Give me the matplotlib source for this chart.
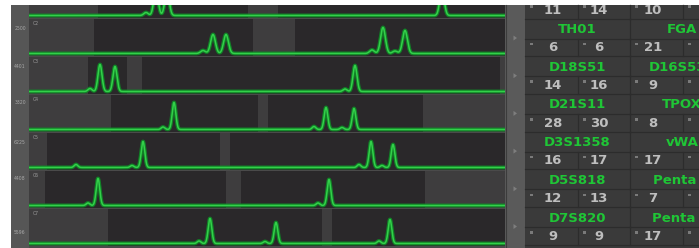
import numpy as np
import matplotlib
matplotlib.use("Agg")
import matplotlib.pyplot as plt
from matplotlib.patches import Rectangle, Polygon

W, H = 699, 248

# --- electropherogram rows (x in scan units, heights in RFU) ---
row_names = ["C1", "C2", "C3", "C4", "C5", "C6", "C7"]
row_scale = ["", "2500", "4401", "3320", "6225", "4408", "5596"]
scale_y = [0, 29, 66, 103, 142, 179, 232]

peak_pos = [
    [117, 127, 138, 413],
    [174, 184, 197, 343, 354, 366, 376],
    [61, 71, 86, 316, 326],
    [134, 145, 285, 297, 313, 325],
    [47, 103, 114, 330, 342, 353, 364],
    [59, 69, 289, 300],
    [170, 181, 236, 247, 350, 361],
]
peak_rfu = [
    [300, 2600, 2500, 2700],
    [300, 1900, 1900, 350, 2600, 250, 2300],
    [300, 2700, 2500, 250, 2600],
    [250, 2700, 300, 2200, 200, 2100],
    [300, 200, 2600, 300, 2600, 200, 2300],
    [250, 2700, 250, 2600],
    [250, 2500, 200, 2100, 250, 2400],
]
peak_sigma = [2.2, 2.4, 2.0, 1.8, 1.8, 1.8, 1.8]

bins = [
    [(0, 69), (219, 249)],
    [(0, 65), (224, 266)],
    [(0, 59), (98, 113), (471, 476)],
    [(0, 82), (229, 239), (394, 476)],
    [(0, 18), (191, 201)],
    [(0, 16), (197, 212), (396, 476)],
    [(0, 79), (293, 303)],
]

# --- allele table ---
loci_left = ["TH01", "D18S51", "D21S11", "D3S1358", "D5S818", "D7S820"]
loci_right = ["FGA", "D16S539", "TPOX", "vWA", "Penta E", "Penta D"]
alleles = [
    [11, 14, 10],
    [6, 6, 21],
    [14, 16, 9],
    [28, 30, 8],
    [16, 17, 17],
    [12, 13, 7],
    [9, 9, 17],
]

DARK = "#2a282a"
LIGHT = "#3e3d3e"
SEP = "#4a4a4a"
GREEN_GLOW = "#0f8a26"
GREEN = "#33d04a"

fig = plt.figure(figsize=(W / 100, H / 100), dpi=100)
fig.patch.set_facecolor("white")

bg = fig.add_axes([0, 0, 1, 1], zorder=0)
bg.set_xlim(0, W)
bg.set_ylim(H, 0)
bg.axis("off")

# label column, trace container, arrow strip, table
bg.add_patch(Rectangle((11, 5), 18, H - 5, color="#565656", lw=0))
bg.add_patch(Rectangle((29, 5), 476, H - 5, color=SEP, lw=0))
bg.add_patch(Rectangle((505, 5), 20, H - 5, color="#5a5a5a", lw=0))
bg.add_patch(Rectangle((525, 5), W - 525, H - 5, color="#3a3a3a", lw=0))
bg.plot([505.5, 505.5], [5, H], color="#3c3c3c", lw=0.8)

for i, lab in enumerate(row_scale):
    if lab:
        bg.text(20, scale_y[i], lab, fontsize=3.3, color="#a8a8a8",
                ha="center", va="center")

pitch = 37.7
for k in range(6):
    yc = 38 + pitch * k
    bg.add_patch(Polygon([(513.5, yc - 2.5), (513.5, yc + 2.5), (517, yc)],
                         closed=True, color="#7e7e7e", lw=0))

cell_left = [525, 578, 630, 683]
num_x = [553, 599, 653]
line_c = "#2c2c2c"
for k in range(7):
    top = 18.5 + pitch * k
    bg.plot([525, W], [top, top], color=line_c, lw=0.9)
    bg.plot([525, W], [top + 20, top + 20], color=line_c, lw=0.9)
    # vertical dividers in number rows
    ny0, ny1 = top - 17.7, top
    for cx in cell_left[1:]:
        bg.plot([cx, cx], [max(ny0, 5), ny1], color=line_c, lw=0.9)
    if k < 6:
        bg.plot([630, 630], [top, top + 20], color=line_c, lw=0.9)

for k, vals in enumerate(alleles):
    yc = 10 + pitch * k
    for j, cx in enumerate(cell_left):
        if yc - 4.5 > 5:
            bg.add_patch(Rectangle((cx + 5, yc - 5), 2.5, 2.5, color="#7a7a7a", lw=0))
    for j, v in enumerate(vals):
        bg.text(num_x[j], yc, str(v), fontsize=9.5, fontweight="bold",
                color="#bebebe", ha="center", va="center")

for k in range(len(loci_left)):
    yc = 29.5 + pitch * k
    bg.text(577, yc, loci_left[k], fontsize=9.5, fontweight="bold",
            color="#1fc636", ha="center", va="center")
    bg.text(682, yc, loci_right[k], fontsize=9.5, fontweight="bold",
            color="#1fc636", ha="center", va="center")

# trace rows
x = np.linspace(0, 476, 2400)
for i in range(7):
    base_px = 15.5 + 38 * i
    bot_px = base_px + 2
    top_px = max(bot_px - 37, 5)
    hpx = bot_px - top_px
    ax = fig.add_axes([29 / W, 1 - bot_px / H, 476 / W, hpx / H], zorder=1)
    ax.set_xlim(0, 476)
    ax.set_ylim(-200, (hpx - 2) * 100)
    ax.set_facecolor(DARK)
    for a, b in bins[i]:
        ax.axvspan(a, b, color=LIGHT, lw=0)
    y = np.zeros_like(x)
    for p, h in zip(peak_pos[i], peak_rfu[i]):
        y += h * np.exp(-0.5 * ((x - p) / peak_sigma[i]) ** 2)
    ax.plot(x, y, color=GREEN_GLOW, lw=2.8, alpha=0.9, solid_joinstyle="round")
    ax.plot(x, y, color=GREEN, lw=1.1, solid_joinstyle="round")
    ax.set_xticks([])
    ax.set_yticks([])
    for s in ax.spines.values():
        s.set_visible(False)
    if top_px > 5:
        ax.text(4 / 476, 1 - 5 / hpx, row_names[i], transform=ax.transAxes,
                fontsize=3.3, color="#9a9a9a", va="center", ha="left")

fig.savefig("out.png", dpi=100, facecolor="white")
